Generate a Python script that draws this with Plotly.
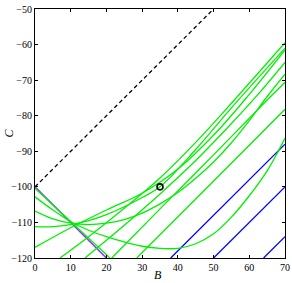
import plotly.graph_objects as go

# reference lines
dash_B = [0, 50]
dash_C = [-100, -50]
purple_B = [0, 20]
purple_C = [-100, -120]
blue_lines = [
    ([38, 70], [-120, -88]),
    ([50, 70], [-120, -100]),
    ([64, 70], [-120, -114]),
]
marker_B = [35]
marker_C = [-100]

# green curves
g_edge_B = [0, 10.5, 21]
g_edge_C = [-100.4, -110.2, -120]

g_bowl_B = [0, 5, 10, 15, 20, 25, 30, 35, 40, 45, 50, 55, 60, 65, 68, 70]
g_bowl_C = [-102.8, -106.5, -109.8, -112.2, -114.0, -115.5, -116.7, -117.3, -117.3, -116.0, -113.2, -108.5, -102.5, -95.5, -90.2, -86.3]

g_l3_B = [0, 5, 10, 15, 20, 25, 30, 35, 40, 45, 50, 55, 60, 65, 70]
g_l3_C = [-106.8, -109.0, -110.2, -110.6, -110.2, -109.2, -107.4, -104.8, -101.6, -97.6, -93.0, -87.6, -81.4, -74.6, -68.3]

g_l4_B = [0, 5, 10, 15, 20, 25, 30, 35, 45, 55, 70]
g_l4_C = [-111.2, -111.2, -110.6, -109.5, -107.8, -105.6, -103.0, -100.0, -89.5, -77.8, -61.0]

g_l5_B = [0, 10, 20, 30, 40, 50, 60, 70]
g_l5_C = [-117.0, -111.5, -106.5, -101.8, -95.0, -85.5, -74.0, -61.5]

g_s7_B = [7, 15, 25, 35, 45, 55, 70]
g_s7_C = [-120, -114.0, -106.0, -97.5, -87.5, -76.5, -59.5]

g_s14_B = [14, 25, 35, 45, 55, 62, 70]
g_s14_C = [-120, -110.8, -102.0, -92.6, -82.2, -74.5, -65.0]

g_s21_B = [21.5, 35, 50, 65, 70]
g_s21_C = [-120, -106.2, -91.0, -75.6, -70.6]

g_s28_B = [28.5, 45, 60, 70]
g_s28_C = [-120, -103.4, -88.3, -78.2]

green_curves = [
    (g_edge_B, g_edge_C), (g_bowl_B, g_bowl_C), (g_l3_B, g_l3_C),
    (g_l4_B, g_l4_C), (g_l5_B, g_l5_C), (g_s7_B, g_s7_C),
    (g_s14_B, g_s14_C), (g_s21_B, g_s21_C), (g_s28_B, g_s28_C),
]

GREEN = "#00f000"
fig = go.Figure()
fig.add_trace(go.Scatter(x=dash_B, y=dash_C, mode="lines",
                         line=dict(color="black", width=1.3, dash="4px,3px")))
for bx, by in blue_lines:
    fig.add_trace(go.Scatter(x=bx, y=by, mode="lines", line=dict(color="#0000ff", width=1.3)))
fig.add_trace(go.Scatter(x=purple_B, y=purple_C, mode="lines", line=dict(color="#9933ff", width=1.6)))
for bx, by in green_curves:
    fig.add_trace(go.Scatter(x=bx, y=by, mode="lines",
                             line=dict(color=GREEN, width=1.3, shape="spline", smoothing=1.0)))
fig.add_trace(go.Scatter(x=marker_B, y=marker_C, mode="markers",
                         marker=dict(symbol="circle-open", size=6, color="black", line=dict(width=1.6))))

axis_common = dict(showline=True, linecolor="black", linewidth=1, mirror="ticks",
                   ticks="inside", ticklen=3, tickcolor="black", showgrid=False, zeroline=False,
                   automargin=False,
                   tickfont=dict(family="Liberation Serif", size=10, color="black"))
fig.update_layout(
    width=292, height=283, margin=dict(l=35, r=7, t=9, b=25),
    paper_bgcolor="white", plot_bgcolor="white", showlegend=False,
    xaxis=dict(range=[0, 70], dtick=10, tick0=0, **axis_common),
    yaxis=dict(range=[-120, -50], dtick=10, tick0=-120, **axis_common),
    annotations=[
        dict(text="<i>B</i>", xref="paper", yref="paper", x=0.49, y=0, yshift=-17,
             xanchor="center", yanchor="middle",
             showarrow=False, font=dict(family="Liberation Serif", size=12, color="black")),
        dict(text="<i>C</i>", xref="paper", yref="paper", x=0, y=0.5, xshift=-27, textangle=-90,
             xanchor="center", yanchor="middle",
             showarrow=False, font=dict(family="Liberation Serif", size=12, color="black")),
    ],
)
fig.write_html("out.html", config={"displayModeBar": False},
               post_script="document.body.style.margin='0';document.body.style.overflow='hidden';")
